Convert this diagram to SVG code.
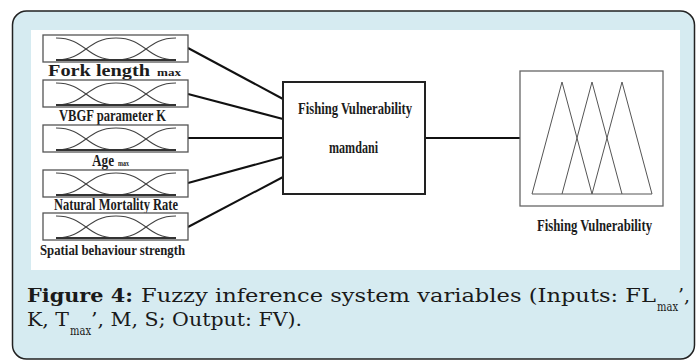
<svg xmlns="http://www.w3.org/2000/svg" xmlns:xlink="http://www.w3.org/1999/xlink" width="699" height="363" viewBox="0 0 699 363">
<style>
.lbl{font-family:"Liberation Serif","Times New Roman",serif;font-weight:bold;fill:#1c1c1c}
.cap{font-family:"DejaVu Serif","Liberation Serif",serif;fill:#1a1a1a;font-size:19px}
.sub{font-family:"DejaVu Serif","Liberation Serif",serif;fill:#1a1a1a;font-size:12px}
.box{fill:#fff;stroke:#555;stroke-width:1.3}
.mf{fill:none;stroke:#444;stroke-width:1.1}
.conn{stroke:#111;stroke-width:2;fill:none}
</style>
<defs>
<g id="mfset">
<rect class="box" x="0" y="0" width="145" height="27"/>
<path class="mf" d="M13,3 C43,3 43,25 73,25"/>
<path class="mf" d="M13,25 C43,25 43,3 73,3 C103,3 103,25 133,25"/>
<path class="mf" d="M73,25 C103,25 103,3 133,3"/>
<line x1="13" y1="25" x2="133" y2="25" stroke="#333" stroke-width="2"/>
</g>
</defs>
<rect x="12.5" y="11" width="682" height="348" rx="14" fill="#d6ebf1" stroke="#222" stroke-width="1.5"/>
<rect x="31" y="30" width="649" height="240" fill="#fff"/>
<g id="connectors">
<line class="conn" x1="188" y1="48" x2="283" y2="99"/>
<line class="conn" x1="188" y1="94" x2="283" y2="119"/>
<line class="conn" x1="188" y1="138" x2="283" y2="138"/>
<line class="conn" x1="188" y1="183" x2="283" y2="157"/>
<line class="conn" x1="188" y1="227" x2="283" y2="177"/>
<line class="conn" x1="425" y1="138" x2="520" y2="138"/>
</g>
<g id="in1">
<use xlink:href="#mfset" x="43" y="35"/>
<text class="lbl" x="48" y="76" font-size="17" textLength="102" lengthAdjust="spacingAndGlyphs">Fork length</text>
<text class="lbl" x="157" y="76" font-size="10" textLength="24" lengthAdjust="spacingAndGlyphs">max</text>
</g>
<g id="in2">
<use xlink:href="#mfset" x="43" y="80"/>
<text class="lbl" x="59" y="121" font-size="16" textLength="107" lengthAdjust="spacingAndGlyphs">VBGF parameter K</text>
</g>
<g id="in3">
<use xlink:href="#mfset" x="43" y="125"/>
<text class="lbl" x="92" y="166" font-size="16" textLength="22" lengthAdjust="spacingAndGlyphs">Age</text>
<text class="lbl" x="118" y="166" font-size="8" textLength="11" lengthAdjust="spacingAndGlyphs">max</text>
</g>
<g id="in4">
<use xlink:href="#mfset" x="43" y="170"/>
<text class="lbl" x="54" y="210" font-size="16" textLength="124" lengthAdjust="spacingAndGlyphs">Natural Mortality Rate</text>
</g>
<g id="in5">
<use xlink:href="#mfset" x="43" y="213"/>
<text class="lbl" x="40" y="255" font-size="15" textLength="145" lengthAdjust="spacingAndGlyphs">Spatial behaviour strength</text>
</g>
<g id="fis">
<rect x="283" y="82" width="142" height="112" fill="#fff" stroke="#222" stroke-width="2"/>
<text class="lbl" x="298" y="114" font-size="16" textLength="114" lengthAdjust="spacingAndGlyphs">Fishing Vulnerability</text>
<text class="lbl" x="329" y="153" font-size="16" textLength="49" lengthAdjust="spacingAndGlyphs">mamdani</text>
</g>
<g id="out">
<rect x="520" y="71" width="143" height="135" fill="#fff" stroke="#666" stroke-width="1.3"/>
<g fill="none" stroke="#555" stroke-width="1">
<polyline points="532,194 562,82 592,194"/>
<polyline points="562,194 592,82 622,194"/>
<polyline points="592,194 622,82 652,194"/>
<line x1="532" y1="194" x2="652" y2="194"/>
</g>
<text class="lbl" x="537" y="231" font-size="16" textLength="115" lengthAdjust="spacingAndGlyphs">Fishing Vulnerability</text>
</g>
<g id="caption">
<text class="cap" x="27" y="302" font-weight="bold" textLength="106" lengthAdjust="spacingAndGlyphs">Figure 4:</text>
<text class="cap" x="141" y="302" textLength="515" lengthAdjust="spacingAndGlyphs">Fuzzy inference system variables (Inputs: FL</text>
<text class="sub" x="657" y="311" textLength="21" lengthAdjust="spacingAndGlyphs">max</text>
<text class="cap" x="678" y="302">’,</text>
<text class="cap" x="27" y="326" textLength="42" lengthAdjust="spacingAndGlyphs">K, T</text>
<text class="sub" x="70" y="335" textLength="21" lengthAdjust="spacingAndGlyphs">max</text>
<text class="cap" x="91" y="326" textLength="211" lengthAdjust="spacingAndGlyphs">’, M, S; Output: FV).</text>
</g>
</svg>
